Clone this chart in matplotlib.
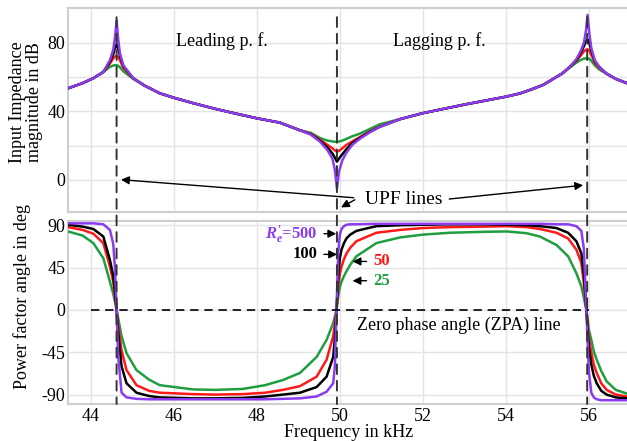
import matplotlib
matplotlib.use("Agg")
import matplotlib.pyplot as plt
from matplotlib.patches import ConnectionPatch

plt.rcParams['font.family'] = ['Liberation Serif', 'DejaVu Serif']
plt.rcParams['mathtext.fontset'] = 'custom'
plt.rcParams['mathtext.it'] = 'Liberation Serif:italic:bold'
plt.rcParams['mathtext.rm'] = 'Liberation Serif:bold'
plt.rcParams['axes.unicode_minus'] = False

# ---- data ----
labels = ["500", "100", "50", "25"]
colors = ["#8a3cf0", "black", "#ff1a1a", "#1f9e40"]

# impedance magnitude (dB)
f_mag = [43.45, 43.8, 44.06, 44.3, 44.46, 44.54, 44.58, 44.62, 44.66, 44.70,
         44.78, 45.02, 45.3, 45.66, 46.0, 46.47, 47.0, 47.5, 48.0, 48.55,
         49.04, 49.3, 49.52, 49.7, 49.82, 49.88, 49.93, 49.98, 50.06, 50.16,
         50.3, 50.48, 50.7, 50.96, 51.45, 52.0, 52.5, 53.0, 53.5, 54.0,
         54.34, 54.6, 54.9, 55.14, 55.35, 55.54, 55.7, 55.80, 55.88, 55.93,
         55.97, 56.01, 56.06, 56.14, 56.25, 56.43, 56.65, 56.92]
mag_500 = [53.5, 56.5, 59.4, 63, 70, 76, 83, 93, 82, 74,
           67, 59.4, 55, 50.6, 48, 44.8, 41.5, 38.7, 36, 33.5,
           29, 26.5, 22.4, 17.5, 12.5, 6, -5, 5, 11.5, 16,
           20.5, 24, 27.5, 31, 35.5, 39, 41.5, 44, 46.3, 48.6,
           50.5, 52.7, 55.5, 59, 62, 66, 70.5, 75, 80, 87,
           96.4, 86, 77, 70, 66, 62, 59, 56.5]
mag_100 = [53.5, 56.5, 59.4, 63, 69, 73.5, 77, 79, 76.5, 72.5,
           66.5, 59.4, 55, 50.6, 48, 44.8, 41.5, 38.7, 36, 33.5,
           29, 26.7, 23, 19, 15.5, 13, 10.7, 12.5, 15, 18,
           21.5, 24.5, 27.8, 31, 35.5, 39, 41.5, 44, 46.3, 48.6,
           50.5, 52.7, 55.5, 59, 62, 66, 70, 74, 78, 81,
           82, 80, 75.5, 69.5, 66, 62, 59, 56.5]
mag_50 = [53.5, 56.5, 59.4, 63, 68, 71, 72, 72.4, 71.5, 70,
          65.5, 59.4, 55, 50.6, 48, 44.8, 41.5, 38.7, 36, 33.5,
          29, 27, 23.5, 20.5, 18.5, 17.3, 16.5, 17, 18.5, 20.5,
          22.5, 25, 28, 31.2, 35.5, 39, 41.5, 44, 46.3, 48.6,
          50.5, 52.7, 55.5, 59, 62, 66, 69.5, 72.5, 75, 76,
          76.3, 75.5, 73, 68.5, 65.5, 62, 59, 56.5]
mag_25 = [53.5, 56.5, 59.4, 63, 66, 66.8, 67, 67, 66.6, 65.8,
          63.5, 59, 55, 50.6, 48, 44.8, 41.5, 38.7, 36, 33.5,
          29, 27.5, 24.5, 23, 22.5, 22.3, 22.2, 22.4, 23, 24,
          25.5, 27, 29.5, 32.5, 35.5, 39, 41.5, 44, 46.3, 48.6,
          50.5, 52.7, 55.5, 59, 62, 65.5, 68.5, 70, 70.8, 71,
          71, 70.7, 69.5, 67, 64.5, 62, 59, 56.5]

# power factor angle (deg)
f_ang = [43.45, 43.8, 44.06, 44.3, 44.46, 44.54, 44.58, 44.62, 44.66, 44.74,
         44.86, 45.1, 45.4, 45.66, 46.46, 47.0, 47.66, 48.2, 48.63, 49.04,
         49.44, 49.68, 49.84, 49.88, 49.92, 49.96, 50.0, 50.04, 50.1, 50.16,
         50.25, 50.4, 50.88, 51.45, 52.0, 52.65, 53.5, 54.02, 54.5, 54.82,
         55.22, 55.5, 55.7, 55.82, 55.88, 55.94, 56.0, 56.06, 56.12, 56.19,
         56.3, 56.43, 56.65, 56.92]
ang_500 = [92, 92, 92, 91, 85, 70, 45, 0, -50, -88,
           -93, -94.5, -95, -95, -95, -95, -95, -95, -94.5, -94,
           -92, -87, -78, -60, 0, 60, 80, 86, 89, 90.5,
           91, 91, 91.5, 91.5, 91.5, 91.5, 91.5, 91.5, 91.5, 91.5,
           91, 91, 89, 84, 65, 0, -65, -88, -93, -95,
           -96, -96, -96, -96]
ang_100 = [90.5, 88.5, 86, 78, 53, 36, 20, 0, -25, -60,
           -78, -88, -91.5, -93, -94, -94, -93.5, -92, -90, -88,
           -82, -71, -50, -30, 0, 35, 55, 64, 71, 76,
           80, 84, 89, 90, 90.5, 91, 91, 90.5, 90, 89,
           87, 82, 73, 60, 38, 0, -40, -58, -70, -78,
           -86, -90, -93, -94]
ang_50 = [88, 85, 81, 71, 46, 30, 16, 0, -17, -43,
          -64, -80, -86, -88, -89.5, -90, -89.5, -88, -85, -81,
          -71, -53, -28, -15, 0, 25, 38, 46, 54, 60,
          66, 73, 82, 85, 87, 88, 88.5, 89, 88, 86,
          82, 76, 64, 50, 28, 0, -30, -45, -58, -67,
          -78, -85, -90, -92]
ang_25 = [83.4, 79, 71, 55, 30, 17, 9, 0, -9, -28,
          -46, -64, -74, -80, -84.5, -85, -84, -80, -74.5, -67,
          -50, -32, -14, -7, 0, 14, 24, 30, 36, 41,
          48, 57, 71, 77, 80, 82, 83, 83.4, 81.5, 78,
          69, 57, 39, 25, 13, 0, -21, -32, -44, -53,
          -65, -76, -85, -89]

upf = [44.62, 49.93, 55.96]

mags = [mag_500, mag_100, mag_50, mag_25]
angs = [ang_500, ang_100, ang_50, ang_25]

fig = plt.figure(figsize=(6.27, 4.41), dpi=100)
ax1 = fig.add_axes([0.1085, 0.5193, 0.8935, 0.4626])
ax2 = fig.add_axes([0.1085, 0.0839, 0.8935, 0.4150])

# draw green first, purple last
for i in [3, 2, 1, 0]:
    ax1.plot(f_mag, mags[i], color=colors[i], lw=1.8, zorder=3)
    ax2.plot(f_ang, angs[i], color=colors[i], lw=1.8, zorder=3)

ax1.set_xlim(43.45, 56.95)
ax2.set_xlim(43.45, 56.95)
ax1.set_ylim(-18.7, 100.4)
ax2.set_ylim(-100, 94.5)

ax1.set_yticks([0, 40, 80])
ax1.set_yticks([20, 60], minor=True)
ax2.set_yticks([-90, -45, 0, 45, 90])
for ax in (ax1, ax2):
    ax.set_xticks([44, 46, 48, 50, 52, 54, 56])
    ax.grid(True, which='both', color='#e4e4e4', lw=1.0, zorder=0)
    ax.tick_params(which='both', length=0, labelsize=13, pad=2)
    for s in ax.spines.values():
        s.set_color('#cfcfcf')
        s.set_linewidth(1.5)
ax1.tick_params(labelbottom=False)
ax2.tick_params(axis='x', pad=3)

ax1.set_ylabel("Input Impedance\nmagnitude in dB", fontsize=13, linespacing=1.05)
ax1.yaxis.set_label_coords(-0.044, 0.54)
ax2.set_ylabel("Power factor angle in deg", fontsize=13)
ax2.yaxis.set_label_coords(-0.066, 0.59)
ax2.set_xlabel("Frequency in kHz", fontsize=13, labelpad=-1)

# UPF dashed lines through both panels
for x in upf:
    con = ConnectionPatch(xyA=(x, 95), coordsA=ax1.transData,
                          xyB=(x, -100), coordsB=ax2.transData,
                          color='#333333', lw=1.4, linestyle=(0, (5, 3.5)),
                          zorder=5)
    fig.add_artist(con)

# zero phase angle line
ax2.plot([44, 56], [0, 0], color='black', lw=1.2, linestyle=(0, (5, 3.5)), zorder=4)
ax2.text(50.41, -16, "Zero phase angle (ZPA) line", fontsize=13, ha='left', va='center')

ax1.text(47.16, 81, "Leading p. f.", fontsize=13, ha='center', va='center')
ax1.text(52.39, 81, "Lagging p. f.", fontsize=13, ha='center', va='center')

ax1.text(51.54, -11.7, "UPF lines", fontsize=14, ha='center', va='center')
arrow = dict(arrowstyle='-|>', color='black', lw=1.0, mutation_scale=12)
ax1.annotate("", xy=(44.66, 0.3), xytext=(50.40, -10.5), arrowprops=arrow,
             annotation_clip=False)
ax1.annotate("", xy=(49.97, -16.8), xytext=(50.42, -10.8), arrowprops=arrow,
             annotation_clip=False)
ax1.annotate("", xy=(55.93, -2.9), xytext=(52.57, -11.3), arrowprops=arrow,
             annotation_clip=False)

# R'e labels
ax2.text(49.46, 81, r"$R_e^{\prime}$=500", color=colors[0], fontsize=12,
         fontweight='bold', ha='right', va='center')
ax2.annotate("", xy=(49.98, 81), xytext=(49.55, 81), arrowprops=arrow)
ax2.text(49.46, 59, "100", color=colors[1], fontsize=12, fontweight='bold',
         ha='right', va='center')
ax2.annotate("", xy=(50.0, 59), xytext=(49.55, 59), arrowprops=arrow)
ax2.text(50.8, 51.5, "50", color=colors[2], fontsize=12, fontweight='bold',
         ha='left', va='center')
ax2.annotate("", xy=(50.24, 51.5), xytext=(50.71, 51.5), arrowprops=arrow)
ax2.text(50.8, 31, "25", color=colors[3], fontsize=12, fontweight='bold',
         ha='left', va='center')
ax2.annotate("", xy=(50.24, 31), xytext=(50.71, 31), arrowprops=arrow)

fig.savefig("out.png", dpi=100)
